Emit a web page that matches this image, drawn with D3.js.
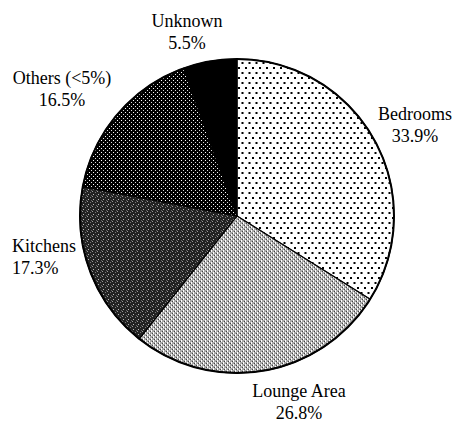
<!DOCTYPE html>
<html>
<head>
<meta charset="utf-8">
<script src="https://cdn.jsdelivr.net/npm/d3@7"></script>
<style>
  body { margin: 0; background: #fff; }
  text { font-family: "Liberation Serif", "Times New Roman", serif; font-size: 18px; fill: #000; }
</style>
</head>
<body>
<div id="chart"></div>
<script>
// data
var categories = ["Bedrooms", "Lounge Area", "Kitchens", "Others (<5%)", "Unknown"];
var shares = [33.9, 26.8, 17.3, 16.5, 5.5];
var shareLabels = ["33.9%", "26.8%", "17.3%", "16.5%", "5.5%"];

var width = 455, height = 423,
    cx = 237, cy = 216, radius = 157;

// label placement (x, y of first line, anchor)
var labelPlace = [
  {x: 415, y: 120, anchor: "middle"},
  {x: 299, y: 397, anchor: "middle"},
  {x: 12,  y: 252, anchor: "start"},
  {x: 62,  y: 84,  anchor: "middle"},
  {x: 187, y: 27,  anchor: "middle"}
];

var svg = d3.select("#chart").append("svg")
    .attr("width", width)
    .attr("height", height);

var defs = svg.append("defs");

// Bedrooms: sparse black dots on white
var p1 = defs.append("pattern").attr("id", "pat0")
    .attr("patternUnits", "userSpaceOnUse").attr("width", 7).attr("height", 10);
p1.append("rect").attr("width", 7).attr("height", 10).attr("fill", "#fff");
p1.append("rect").attr("x", 1).attr("y", 1).attr("width", 2).attr("height", 2).attr("fill", "#000");
p1.append("rect").attr("x", 4.5).attr("y", 6).attr("width", 2).attr("height", 2).attr("fill", "#000");

// Lounge Area: fine light grey weave
var p2 = defs.append("pattern").attr("id", "pat1")
    .attr("patternUnits", "userSpaceOnUse").attr("width", 4).attr("height", 4);
p2.append("rect").attr("width", 4).attr("height", 4).attr("fill", "#a8a8a8");
p2.append("rect").attr("x", 0).attr("y", 0).attr("width", 1).attr("height", 2).attr("fill", "#fff");
p2.append("rect").attr("x", 2).attr("y", 2).attr("width", 1).attr("height", 2).attr("fill", "#fff");
p2.append("rect").attr("x", 1).attr("y", 3).attr("width", 1).attr("height", 1).attr("fill", "#444");
p2.append("rect").attr("x", 3).attr("y", 1).attr("width", 1).attr("height", 1).attr("fill", "#444");

// Kitchens: dark noisy texture
var p3 = defs.append("pattern").attr("id", "pat2")
    .attr("patternUnits", "userSpaceOnUse").attr("width", 5).attr("height", 5);
p3.append("rect").attr("width", 5).attr("height", 5).attr("fill", "#222");
p3.append("rect").attr("x", 0).attr("y", 0).attr("width", 1).attr("height", 1).attr("fill", "#9a9a9a");
p3.append("rect").attr("x", 3).attr("y", 1).attr("width", 1).attr("height", 1).attr("fill", "#777");
p3.append("rect").attr("x", 1).attr("y", 3).attr("width", 1).attr("height", 1).attr("fill", "#bbb");
p3.append("rect").attr("x", 4).attr("y", 4).attr("width", 1).attr("height", 1).attr("fill", "#666");

// Others: white dots on black
var p4 = defs.append("pattern").attr("id", "pat3")
    .attr("patternUnits", "userSpaceOnUse").attr("width", 4).attr("height", 4);
p4.append("rect").attr("width", 4).attr("height", 4).attr("fill", "#000");
p4.append("rect").attr("x", 0).attr("y", 0).attr("width", 1).attr("height", 1).attr("fill", "#fff");
p4.append("rect").attr("x", 2).attr("y", 2).attr("width", 1).attr("height", 1).attr("fill", "#ddd");

var fills = ["url(#pat0)", "url(#pat1)", "url(#pat2)", "url(#pat3)", "#000"];

var pie = d3.pie().sort(null).value(function(d) { return d; });
var arc = d3.arc().innerRadius(0).outerRadius(radius);

var g = svg.append("g").attr("transform", "translate(" + cx + "," + cy + ")");

g.selectAll("path")
    .data(pie(shares))
    .enter().append("path")
    .attr("d", arc)
    .attr("fill", function(d, i) { return fills[i]; })
    .attr("stroke", "#000")
    .attr("stroke-width", 1.2);

// outer rim
g.append("circle").attr("r", radius)
    .attr("fill", "none").attr("stroke", "#000").attr("stroke-width", 2);

var labels = svg.selectAll("text.lbl")
    .data(categories)
    .enter().append("text")
    .attr("class", "lbl")
    .attr("x", function(d, i) { return labelPlace[i].x; })
    .attr("y", function(d, i) { return labelPlace[i].y; })
    .attr("text-anchor", function(d, i) { return labelPlace[i].anchor; });

labels.append("tspan").text(function(d) { return d; });
labels.append("tspan")
    .attr("x", function(d, i) { return labelPlace[i].x; })
    .attr("dy", 22)
    .text(function(d, i) { return shareLabels[i]; });
</script>
</body>
</html>
